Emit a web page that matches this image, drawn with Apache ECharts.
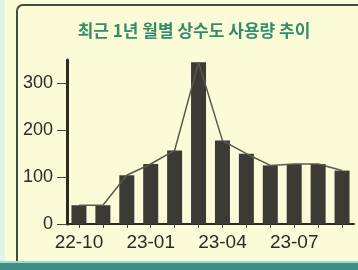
<!DOCTYPE html>
<html>
<head>
<meta charset="utf-8">
<script src="https://cdn.jsdelivr.net/npm/echarts@6/dist/echarts.min.js"></script>
<style>
  html, body { margin: 0; padding: 0; background: #fcfbd8; }
  #chart { width: 358px; height: 270px; }
</style>
</head>
<body>
<div id="chart"></div>
<script>
// 월별 상수도 사용량
const months = ['22-10', '22-11', '22-12', '23-01', '23-02', '23-03',
                '23-04', '23-05', '23-06', '23-07', '23-08', '23-09']
const usage = [40, 40, 104, 128, 157, 345, 178, 150, 125, 128, 128, 114]
const yTicks = [0, 100, 200, 300]

const chart = echarts.init(document.getElementById('chart'))

const option = {
  backgroundColor: '#fcfbd8',
  animation: false,
  title: {
    text: '최근 1년 월별 상수도 사용량 추이',
    left: 189,
    top: 17,
    textAlign: 'center',
    textStyle: {
      fontFamily: 'Noto Sans CJK KR',
      fontSize: 17,
      fontWeight: 'bold',
      color: '#338d6c'
    }
  },
  // 프레임 장식
  graphic: [
    { type: 'rect', shape: { x: 0, y: 0, width: 5, height: 270 }, style: { fill: '#dff3e6' } },
    { type: 'rect', shape: { x: 17, y: 5, width: 360, height: 280, r: 6 }, style: { fill: 'none', stroke: '#3f4f3c', lineWidth: 2 } },
    { type: 'rect', shape: { x: 0, y: 261, width: 358, height: 9 }, style: { fill: '#3d8f86' } },
    { type: 'rect', shape: { x: 0, y: 261, width: 358, height: 2 }, style: { fill: '#a9d8cc' } }
  ],
  grid: {
    left: 67,
    right: 4,
    top: 60,
    bottom: 46
  },
  xAxis: {
    type: 'category',
    data: months,
    axisLine: { lineStyle: { color: '#2a2a26', width: 2 } },
    axisTick: { show: true, alignWithLabel: true, interval: 0, length: 4, lineStyle: { color: '#444' } },
    axisLabel: {
      interval: 2,
      margin: 9,
      fontFamily: 'Liberation Sans',
      fontSize: 19,
      color: '#2a2a26'
    }
  },
  yAxis: {
    type: 'value',
    min: 0,
    max: 350,
    interval: 100,
    splitLine: { show: false },
    axisLine: { show: true, lineStyle: { color: '#2a2a26', width: 3 } },
    axisTick: { show: true, length: 10, customValues: yTicks, lineStyle: { color: '#444' } },
    axisLabel: {
      customValues: yTicks,
      margin: 14,
      fontFamily: 'Liberation Sans',
      fontSize: 18,
      color: '#2a2a26'
    }
  },
  series: [
    {
      type: 'bar',
      data: usage,
      barWidth: 15,
      itemStyle: { color: '#3b3a34' }
    },
    {
      type: 'line',
      data: usage,
      symbol: 'none',
      lineStyle: { color: '#5a5950', width: 1.5 },
      z: 3
    }
  ]
}

chart.setOption(option)
</script>
</body>
</html>
